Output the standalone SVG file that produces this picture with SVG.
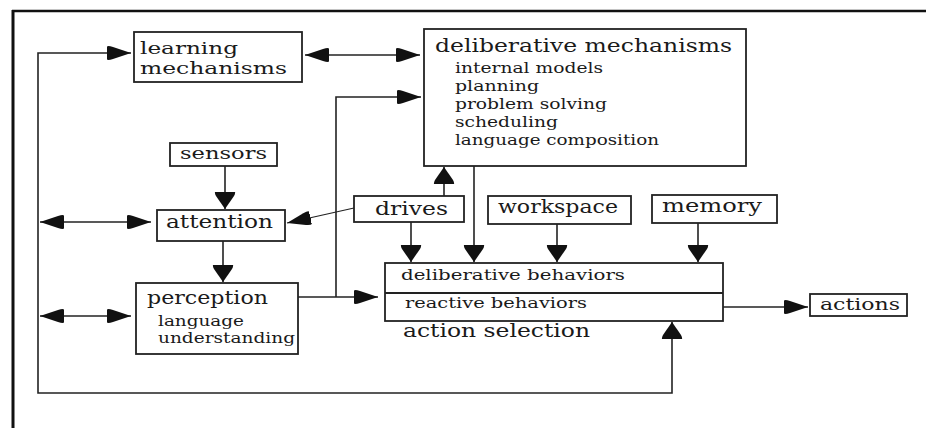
<svg xmlns="http://www.w3.org/2000/svg" width="926" height="428" viewBox="0 0 926 428">
<style>
.box{fill:#fff;stroke:#222;stroke-width:1.8}
.ln{fill:none;stroke:#222;stroke-width:1.6}
text{font-family:"DejaVu Serif","Liberation Serif",serif;fill:#1a1a1a}
</style>
<defs>
<marker id="ah" markerUnits="userSpaceOnUse" viewBox="0 -8 25 16" markerWidth="25" markerHeight="16" refX="24" refY="0" orient="auto-start-reverse">
<path d="M0,-6.5 Q1,-7.5 6,-6 L24,0 L6,6 Q1,7.5 0,6.5 Q-1,0 0,-6.5 Z" fill="#111"/>
</marker>
<marker id="av" markerUnits="userSpaceOnUse" viewBox="0 -11 18 22" markerWidth="18" markerHeight="22" refX="17" refY="0" orient="auto-start-reverse">
<path d="M0,-10 Q1,-10.5 4,-9 L17,0 L4,9 Q1,10.5 0,10 Q-1,0 0,-10 Z" fill="#111"/>
</marker>
</defs>
<rect width="926" height="428" fill="#fff"/>
<g id="frame">
<line x1="12" y1="11" x2="926" y2="11" stroke="#111" stroke-width="2.5"/>
<line x1="13" y1="10" x2="13" y2="428" stroke="#111" stroke-width="3"/>
</g>
<g id="connectors">
<path class="ln" d="M131,53 H38 V393 H672 V322" marker-start="url(#ah)" marker-end="url(#av)"/>
<path class="ln" d="M40,222 H151" marker-start="url(#ah)" marker-end="url(#ah)"/>
<path class="ln" d="M40,316 H131" marker-start="url(#ah)" marker-end="url(#ah)"/>
<path class="ln" d="M305,55 H420" marker-start="url(#ah)" marker-end="url(#ah)"/>
<path class="ln" d="M225,166 V209" marker-end="url(#av)"/>
<path class="ln" d="M223,241 V282" marker-end="url(#av)"/>
<path class="ln" d="M354,208 L287,223" marker-end="url(#ah)" style="stroke-width:1.2"/>
<path class="ln" d="M298,297 H378" marker-end="url(#ah)"/>
<path class="ln" d="M336,297 V97 H421" marker-end="url(#ah)"/>
<path class="ln" d="M444,196 V167" marker-end="url(#av)"/>
<path class="ln" d="M411,222 V262" marker-end="url(#av)"/>
<path class="ln" d="M474,166 V262" marker-end="url(#av)"/>
<path class="ln" d="M557,224 V262" marker-end="url(#av)"/>
<path class="ln" d="M698,223 V262" marker-end="url(#av)"/>
<path class="ln" d="M723,307 H808" marker-end="url(#ah)"/>
</g>
<g id="learning">
<rect class="box" x="134" y="32" width="168" height="50"/>
<text x="140" y="54" font-size="17" textLength="98" lengthAdjust="spacingAndGlyphs">learning</text>
<text x="140" y="74" font-size="17" textLength="147" lengthAdjust="spacingAndGlyphs">mechanisms</text>
</g>
<g id="deliberative">
<rect class="box" x="424" y="29" width="322" height="137"/>
<text x="435" y="52" font-size="19" textLength="297" lengthAdjust="spacingAndGlyphs">deliberative mechanisms</text>
<text x="455" y="73" font-size="14.5" textLength="148" lengthAdjust="spacingAndGlyphs">internal models</text>
<text x="455" y="91" font-size="14.5" textLength="84" lengthAdjust="spacingAndGlyphs">planning</text>
<text x="455" y="109" font-size="14.5" textLength="152" lengthAdjust="spacingAndGlyphs">problem solving</text>
<text x="455" y="127" font-size="14.5" textLength="103" lengthAdjust="spacingAndGlyphs">scheduling</text>
<text x="455" y="145" font-size="14.5" textLength="204" lengthAdjust="spacingAndGlyphs">language composition</text>
</g>
<g id="sensors">
<rect class="box" x="170" y="143" width="107" height="23"/>
<text x="180" y="159" font-size="17" textLength="87" lengthAdjust="spacingAndGlyphs">sensors</text>
</g>
<g id="attention">
<rect class="box" x="157" y="210" width="128" height="31"/>
<text x="166" y="228" font-size="19" textLength="107" lengthAdjust="spacingAndGlyphs">attention</text>
</g>
<g id="drives">
<rect class="box" x="354" y="196" width="110" height="26"/>
<text x="375" y="215" font-size="18" textLength="73" lengthAdjust="spacingAndGlyphs">drives</text>
</g>
<g id="workspace">
<rect class="box" x="488" y="196" width="143" height="28"/>
<text x="498" y="213" font-size="18" textLength="120" lengthAdjust="spacingAndGlyphs">workspace</text>
</g>
<g id="memory">
<rect class="box" x="652" y="195" width="125" height="28"/>
<text x="662" y="212" font-size="18" textLength="100" lengthAdjust="spacingAndGlyphs">memory</text>
</g>
<g id="perception">
<rect class="box" x="136" y="283" width="162" height="71"/>
<text x="147" y="304" font-size="19" textLength="121" lengthAdjust="spacingAndGlyphs">perception</text>
<text x="158" y="325.5" font-size="14.8" textLength="86" lengthAdjust="spacingAndGlyphs">language</text>
<text x="158" y="343" font-size="14.8" textLength="137" lengthAdjust="spacingAndGlyphs">understanding</text>
</g>
<g id="action-selection">
<rect class="box" x="385" y="263" width="338" height="58"/>
<line x1="385" y1="293" x2="723" y2="293" stroke="#222" stroke-width="1.8"/>
<text x="401" y="280" font-size="15" textLength="224" lengthAdjust="spacingAndGlyphs">deliberative behaviors</text>
<text x="405" y="308" font-size="14" textLength="182" lengthAdjust="spacingAndGlyphs">reactive behaviors</text>
<text x="403" y="337" font-size="19" textLength="187" lengthAdjust="spacingAndGlyphs">action selection</text>
</g>
<g id="actions">
<rect class="box" x="810" y="294" width="97" height="22"/>
<text x="820" y="310" font-size="16" textLength="80" lengthAdjust="spacingAndGlyphs">actions</text>
</g>
</svg>
